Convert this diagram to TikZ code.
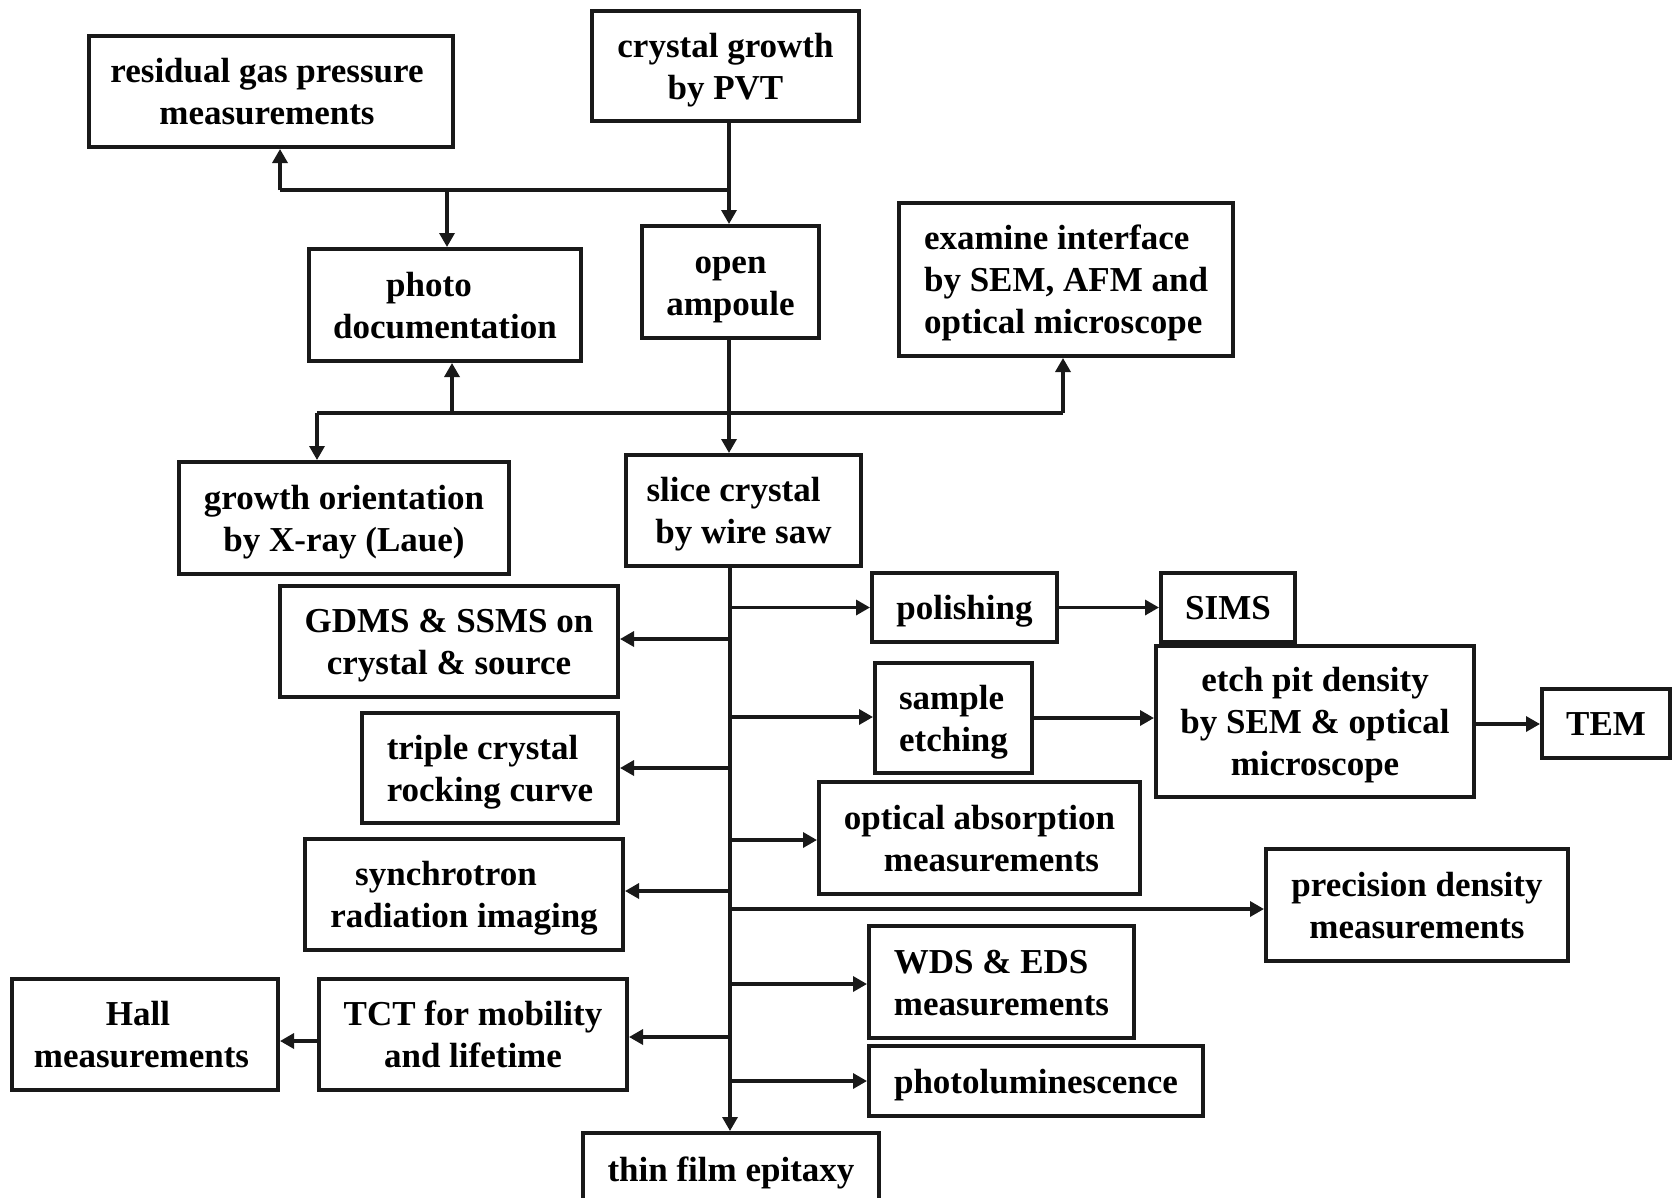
\documentclass[tikz,border=0pt]{standalone}
\usepackage{fontspec}
\setmainfont{Liberation Serif}
\usetikzlibrary{arrows.meta}
\newcommand\tb{\rule{0pt}{32pt}}
\newcommand\te{\rule[-8pt]{0pt}{0pt}}
\tikzset{
  box/.style={draw=black!90, line width=4pt, inner sep=0pt, font=\fontsize{35}{42}\selectfont\bfseries, align=center},
  boxl/.style={box, align=left},
  conn/.style={draw=black!90, line width=3.3pt},
  arr/.style={conn, -{Triangle[length=14pt,width=15pt]}},
}
\begin{document}
\begin{tikzpicture}[x=1pt,y=-1pt]
\useasboundingbox (0,0) rectangle (1672,1197);
\fill[white] (0,0) rectangle (1672,1197);

% nodes
\node[box, minimum width=364pt, minimum height=111pt] (resid) at (271,91.5) {\tb residual gas pressure\rule{8pt}{0pt}\\measurements\rule{8pt}{0pt}\te};
\node[box, minimum width=267pt, minimum height=110pt] (pvt) at (725.5,66) {\tb crystal growth\\by PVT\te};
\node[box, minimum width=272pt, minimum height=112pt] (photo) at (445,305) {\tb photo\rule{32pt}{0pt}\\documentation\te};
\node[box, minimum width=177pt, minimum height=112pt] (open) at (730.5,282) {\tb open\\ampoule\te};
\node[boxl, minimum width=334pt, minimum height=153pt] (exam) at (1066,279.5) {\tb examine interface\\by SEM, AFM and\\optical microscope\te};
\node[box, minimum width=330pt, minimum height=112pt] (growth) at (344,518) {\tb growth orientation\\by X-ray (Laue)\te};
\node[box, minimum width=235pt, minimum height=111pt] (slice) at (743.5,510.5) {\tb slice crystal\rule{20pt}{0pt}\\by wire saw\te};
\node[box, minimum width=185pt, minimum height=69pt] (polish) at (964.5,607.5) {\tb polishing\te};
\node[box, minimum width=134pt, minimum height=69pt] (sims) at (1228,607.5) {\tb SIMS\te};
\node[box, minimum width=338pt, minimum height=111pt] (gdms) at (449,641.5) {\tb GDMS \& SSMS on\\crystal \& source\te};
\node[boxl, minimum width=157pt, minimum height=110pt] (etch) at (953.5,718) {\tb sample\\etching\te};
\node[box, minimum width=318pt, minimum height=151pt] (epd) at (1315,721.5) {\tb etch pit density\\by SEM \& optical\\microscope\te};
\node[box, minimum width=128pt, minimum height=69pt] (tem) at (1606,723.5) {\tb TEM\te};
\node[boxl, minimum width=256pt, minimum height=110pt] (triple) at (490,768) {\tb triple crystal\\rocking curve\te};
\node[box, minimum width=321pt, minimum height=112pt] (optabs) at (979.5,838) {\tb optical absorption\\\rule{24pt}{0pt}measurements\te};
\node[box, minimum width=318pt, minimum height=111pt] (synch) at (464,894.5) {\tb synchrotron\rule{36pt}{0pt}\\radiation imaging\te};
\node[box, minimum width=302pt, minimum height=112pt] (prec) at (1417,905) {\tb precision density\\measurements\te};
\node[boxl, minimum width=265pt, minimum height=112pt] (wds) at (1001.5,982) {\tb WDS \& EDS\\measurements\te};
\node[box, minimum width=308pt, minimum height=111pt] (tct) at (473,1034.5) {\tb TCT for mobility\\and lifetime\te};
\node[box, minimum width=266pt, minimum height=111pt] (hall) at (145,1034.5) {\tb Hall\rule{14pt}{0pt}\\measurements\rule{7pt}{0pt}\te};
\node[box, minimum width=334pt, minimum height=70pt] (pl) at (1036,1081) {\tb photoluminescence\te};
\node[box, minimum width=296pt, minimum height=72pt] (thin) at (731,1169) {\tb thin film epitaxy\te};

% junction coordinates
\coordinate (j1) at (729,190);
\coordinate (j2) at (729,413);

% top part
\draw[arr] (pvt.south -| j1) -- (open.north -| j1);
\draw[conn] (j1) -- (280,190) coordinate (j1l);
\draw[arr] (j1l) -- (resid.south -| j1l);
\draw[arr] (447,190) coordinate (j1p) -- (photo.north -| j1p);

\draw[arr] (open.south -| j1) -- (slice.north -| j1);
\draw[conn] (317,413) coordinate (j2l) -- (1063,413) coordinate (j2r);
\draw[arr] (j2l) -- (growth.north -| j2l);
\draw[arr] (452,413) coordinate (j2p) -- (photo.south -| j2p);
\draw[arr] (j2r) -- (exam.south -| j2r);

% main spine
\coordinate (sp) at (730,566);
\draw[arr] (slice.south -| sp) -- (thin.north -| sp);

% right branches
\draw[arr] (sp |- 0,607.5) -- (polish.west);
\draw[arr] (sp |- 0,717) -- (etch.west |- 0,717);
\draw[arr] (sp |- 0,840) -- (optabs.west |- 0,840);
\draw[arr] (sp |- 0,909) -- (prec.west |- 0,909);
\draw[arr] (sp |- 0,984) -- (wds.west |- 0,984);
\draw[arr] (sp |- 0,1081) -- (pl.west);

% left branches
\draw[arr] (sp |- 0,639) -- (gdms.east |- 0,639);
\draw[arr] (sp |- 0,768) -- (triple.east);
\draw[arr] (sp |- 0,891) -- (synch.east |- 0,891);
\draw[arr] (sp |- 0,1037) -- (tct.east |- 0,1037);

% chains
\draw[arr] (polish.east) -- (sims.west);
\draw[arr] (etch.east) -- (epd.west |- etch.east);
\draw[arr] (epd.east |- 0,724) -- (tem.west |- 0,724);
\draw[arr] (tct.west |- 0,1041) -- (hall.east |- 0,1041);
\end{tikzpicture}
\end{document}
